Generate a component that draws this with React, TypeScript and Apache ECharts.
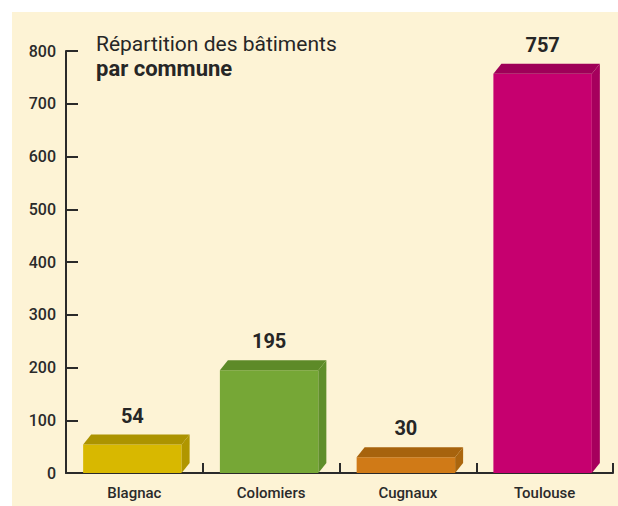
import React, { useEffect, useRef } from "react";
import * as echarts from "echarts";

const categories = ["Blagnac", "Colomiers", "Cugnaux", "Toulouse"];
const values = [54, 195, 30, 757];
const yTicks = [0, 100, 200, 300, 400, 500, 600, 700, 800];

const FRONT = ["#d8b800", "#76a736", "#d07a17", "#c6006f"];
const TOP = ["#ac9300", "#5d8a28", "#a7630d", "#9e0058"];
const SIDE = ["#b09600", "#5f8e2a", "#ab660e", "#a6005d"];
const FONT = "Roboto, 'DejaVu Sans', sans-serif";

export default function App() {
  const ref = useRef<HTMLDivElement>(null);
  useEffect(() => {
    if (!ref.current) return;
    const chart = echarts.init(ref.current, null, { renderer: "svg" });
    const dx = 8;
    const dy = 10;
    chart.setOption({
      animation: false,
      backgroundColor: "transparent",
      textStyle: { fontFamily: FONT },
      title: {
        left: 96,
        top: 31,
        padding: 0,
        text: "{a|Répartition des bâtiments}\n{b|par commune}",
        textStyle: {
          fontWeight: "normal",
          rich: {
            a: { fontSize: 21, fontFamily: FONT, fontWeight: "normal", color: "#262626", lineHeight: 25 },
            b: { fontSize: 22, fontFamily: FONT, fontWeight: "bold", color: "#262626", lineHeight: 25 },
          },
        },
      },
      grid: { left: 66, right: 5, top: 51, bottom: 33, containLabel: false },
      xAxis: {
        type: "category",
        data: categories,
        boundaryGap: true,
        axisLine: { show: true, lineStyle: { color: "#2a2a2a", width: 2 } },
        axisTick: { show: true, inside: true, length: 10, lineStyle: { color: "#2a2a2a", width: 2 } },
        axisLabel: { margin: 12, fontSize: 15, fontWeight: 500, color: "#2a2a2a", fontFamily: FONT },
      },
      yAxis: {
        type: "value",
        min: yTicks[0],
        max: yTicks[yTicks.length - 1],
        interval: 100,
        axisLine: { show: true, lineStyle: { color: "#2a2a2a", width: 2 } },
        axisTick: { show: true, inside: true, length: 12, lineStyle: { color: "#2a2a2a", width: 2 } },
        axisLabel: { margin: 10, fontSize: 16, fontWeight: 500, color: "#2a2a2a", fontFamily: FONT },
        splitLine: { show: false },
      },
      series: [
        {
          type: "custom",
          data: values.map((v, i) => [i, v]),
          renderItem: (params: any, api: any) => {
            const idx = api.value(0);
            const val = api.value(1);
            const top = api.coord([idx, val]);
            const base = api.coord([idx, 0]);
            const w = api.size([1, 0])[0] * 0.72;
            const x = top[0] - w / 2 - 2;
            const y = top[1];
            const b = base[1];
            const i = params.dataIndex;
            return {
              type: "group",
              children: [
                {
                  type: "rect",
                  shape: { x, y, width: w, height: b - y },
                  style: { fill: FRONT[i] },
                },
                {
                  type: "polygon",
                  shape: {
                    points: [
                      [x, y],
                      [x + dx, y - dy],
                      [x + w + dx, y - dy],
                      [x + w, y],
                    ],
                  },
                  style: { fill: TOP[i] },
                },
                {
                  type: "polygon",
                  shape: {
                    points: [
                      [x + w, y],
                      [x + w + dx, y - dy],
                      [x + w + dx, b - dy],
                      [x + w, b],
                    ],
                  },
                  style: { fill: SIDE[i] },
                },
                {
                  type: "text",
                  style: {
                    text: String(val),
                    x: top[0] - 2,
                    y: y - dy - 9,
                    align: "center",
                    verticalAlign: "bottom",
                    fontSize: 20,
                    fontWeight: "bold",
                    fontFamily: FONT,
                    fill: "#262626",
                  },
                },
              ],
            };
          },
        },
      ],
    });
    return () => chart.dispose();
  }, []);
  return (
    <div style={{ position: "fixed", left: 0, top: 0, width: 618, height: 506, background: "#ffffff" }}>
      <div style={{ position: "absolute", left: 12, top: 12, width: 606, height: 494, background: "#fdf3d5" }} />
      <div ref={ref} style={{ position: "absolute", left: 0, top: 0, width: 618, height: 506 }} />
    </div>
  );
}
